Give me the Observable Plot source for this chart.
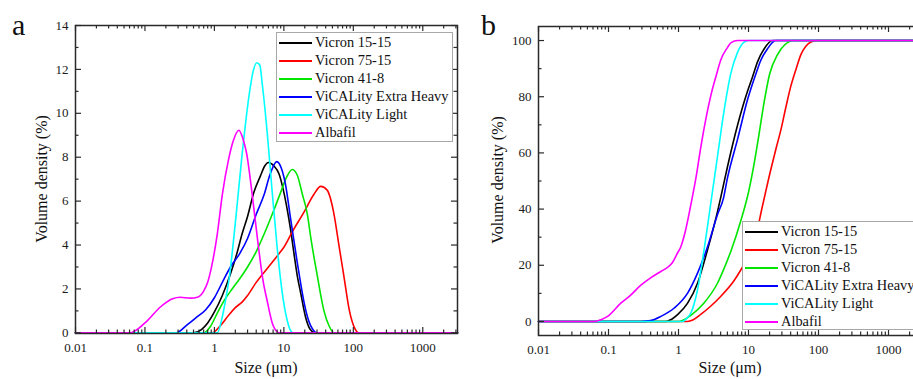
<!DOCTYPE html>
<html><head><meta charset="utf-8">
<script src="https://cdn.jsdelivr.net/npm/d3@7"></script>
<script src="https://cdn.jsdelivr.net/npm/@observablehq/plot@0.6"></script>
<style>
html,body{margin:0;padding:0;background:#fff;overflow:hidden;width:913px;height:379px;}
#wrap{position:relative;width:913px;height:379px;overflow:hidden;font-family:"Liberation Serif","Times New Roman",serif;color:#111;}
.panel{position:absolute;top:0;height:379px;}
.panel svg{background:transparent;}
.plabel{position:absolute;font-size:30px;line-height:30px;}
.xtitle{position:absolute;width:200px;text-align:center;font-size:16px;line-height:16px;white-space:nowrap;}
.ytitle{position:absolute;width:200px;text-align:center;font-size:16px;line-height:16px;white-space:nowrap;transform:rotate(-90deg);transform-origin:50% 50%;}
.legend{position:absolute;background:#fff;border:1px solid #a8a8a8;box-sizing:border-box;overflow:visible;}
.sw{position:absolute;left:2px;width:33px;height:2px;}
.tx{position:absolute;left:38px;font-size:14.4px;line-height:18px;white-space:nowrap;}
</style></head><body><div id="wrap"></div>
<script>
// ---- categories / labels ----
const seriesNames = ["Vicron 15-15","Vicron 75-15","Vicron 41-8","ViCALity Extra Heavy","ViCALity Light","Albafil"];
const sizeTicks = [0.01, 0.1, 1, 10, 100, 1000];
const densityTicks = [0, 2, 4, 6, 8, 10, 12, 14];
const densityMinorTicks = [1, 3, 5, 7, 9, 11, 13];
const cumulativeTicks = [0, 20, 40, 60, 80, 100];
const cumulativeMinorTicks = [10, 30, 50, 70, 90];
const xTitle = "Size (μm)";
const yTitle = "Volume density (%)";

// ---- panel a: volume density [size µm, %] ----
const density1515 = [[0.01,0],[0.5,0],[0.65,0.15],[0.8,0.45],[1.0,0.95],[1.3,1.7],[1.71,2.7],[2.1,3.6],[2.5,4.5],[3.0,5.3],[3.7,6.4],[4.6,7.15],[5.3,7.6],[5.96,7.76],[7.2,7.6],[8.5,7.25],[10,6.4],[11.2,5.6],[12.5,4.7],[14,3.6],[15.6,2.6],[17.5,1.8],[20.6,0.7],[24,0.15],[28,0],[3162,0]];
const density7515 = [[0.01,0],[0.93,0],[1.2,0.3],[1.6,0.8],[2.0,1.15],[2.5,1.4],[3.0,1.7],[4.0,2.3],[6.0,3.0],[8.5,3.6],[10,3.9],[13.2,4.6],[19.5,5.5],[27,6.3],[33.9,6.67],[42,6.5],[52,5.5],[62,4.0],[73,2.6],[88,1.0],[105,0.2],[120,0],[3162,0]];
const density418 = [[0.01,0],[0.71,0],[0.88,0.3],[1.1,0.9],[1.4,1.5],[1.8,2.0],[2.3,2.45],[3.0,3.0],[4.0,3.7],[5.2,4.5],[6.8,5.4],[9.0,6.4],[11,7.1],[13.2,7.44],[15.5,7.2],[18.5,6.3],[21.8,5.4],[24.5,4.3],[30.3,2.6],[37.8,1.0],[45,0.3],[53,0],[3162,0]];
const densityExtraHeavy = [[0.01,0],[0.28,0],[0.4,0.35],[0.55,0.7],[0.75,1.05],[1.0,1.6],[1.3,2.3],[1.7,3.0],[2.3,3.6],[3.0,4.3],[4.0,5.4],[5.2,6.3],[6.3,7.2],[7.9,7.8],[9.2,7.5],[10.5,6.8],[12.5,5.2],[15.6,3.2],[19.5,1.4],[22,0.7],[27,0.1],[30,0],[3162,0]];
const densityLight = [[0.01,0],[1.1,0],[1.25,0.5],[1.45,1.5],[1.65,2.6],[2.0,5.0],[2.5,8.1],[3.15,10.8],[3.6,11.9],[4.1,12.3],[4.5,12.2],[4.9,11.3],[5.8,9.0],[6.8,6.4],[8.0,3.9],[9.5,1.8],[11.2,0.55],[12.5,0.1],[13.5,0],[3162,0]];
const densityAlbafil = [[0.01,0],[0.06,0],[0.1,0.45],[0.17,1.2],[0.25,1.55],[0.32,1.62],[0.45,1.58],[0.57,1.62],[0.7,1.9],[0.8,2.3],[0.95,3.3],[1.1,4.5],[1.3,6.3],[1.6,7.9],[1.85,8.7],[2.25,9.23],[2.6,8.8],[2.9,8.2],[3.5,6.3],[4.2,4.2],[5.0,2.4],[5.8,1.4],[6.8,0.45],[8,0.05],[8.6,0],[3162,0]];

// ---- panel b: cumulative volume [size µm, %] ----
const cum1515 = [[0.01,0],[0.66,0],[0.8,0.8],[0.97,2.4],[1.35,6.5],[1.87,13.6],[2.6,25.5],[3.6,39],[4.0,44],[5.0,55],[7.0,70],[9.7,82],[11.4,87],[13.5,92.5],[16.7,97],[22,100],[3162,100]];
const cum7515 = [[0.01,0],[1.35,0],[1.6,0.5],[2.08,2.5],[2.9,5.5],[4.0,8.9],[6.2,14.5],[7.8,18.4],[10.8,25],[12.6,30],[15.8,41],[20.8,54],[25,62],[28.9,68],[34,76],[40,83.5],[48,90],[56,95],[66,98],[78,99.5],[97,100],[3162,100]];
const cum418 = [[0.01,0],[1.02,0],[1.2,0.6],[1.5,2.2],[2.3,6.5],[3.6,13.6],[4.5,19],[5.6,25],[7.8,36],[10,46],[12,56],[14,66],[16.7,78],[20,88],[26,95],[33,98.5],[44.7,100],[3162,100]];
const cumExtraHeavy = [[0.01,0],[0.29,0],[0.4,0.3],[0.56,1.8],[0.86,4.7],[1.35,10.1],[1.87,17.2],[2.6,26.6],[3.6,38],[4.4,44],[5.0,51],[7.0,65],[9.7,79],[12.7,88],[15,93],[18.6,97],[24.5,100],[3162,100]];
const cumLight = [[0.01,0],[1.14,0],[1.3,1],[1.5,3],[1.87,11.3],[2.32,25.5],[2.89,42],[3.6,58.6],[4.49,75.2],[5.58,88.2],[6.97,95.8],[8.65,99.4],[10,100],[3162,100]];
const cumAlbafil = [[0.01,0],[0.063,0],[0.078,0.6],[0.097,1.8],[0.15,6.5],[0.2,9],[0.29,12.9],[0.4,15.5],[0.56,17.8],[0.7,19.3],[0.82,21],[0.95,24],[1.08,26.6],[1.25,32],[1.5,41.5],[1.8,52],[2.08,62],[2.5,73],[2.9,80.5],[3.5,88],[4.0,93],[5.0,97.5],[5.6,99.2],[7.0,100],[3162,100]];

// ---- styles ----
const seriesColors = ["#000000","#ff0000","#00e600","#0000ff","#00ffff","#ff00ff"];
const frameColor = "#2a2a2a";

const densitySeries = [density1515, density7515, density418, densityExtraHeavy, densityLight, densityAlbafil];
const cumSeries = [cum1515, cum7515, cum418, cumExtraHeavy, cumLight, cumAlbafil];

const xMinorTicks = sizeTicks.flatMap(d => d3.range(2, 10).map(k => +(d * k).toPrecision(3))).filter(v => v <= 3162);

function makePanel(cfg) {
  const {width, height, marginLeft, marginRight, marginTop, marginBottom, yDomain, yMajor, yMinor, series} = cfg;
  const innerH = height - marginTop - marginBottom;
  const innerW = width - marginLeft - marginRight;
  const major = 6, minor = 3.5;
  const rows = series.flatMap((pts, i) => pts.map(([x, y]) => ({x, y, s: seriesNames[i]})));
  const tickStyle = {stroke: frameColor, strokeWidth: 1.2};
  return Plot.plot({
    width, height, marginLeft, marginRight, marginTop, marginBottom,
    style: {fontFamily: "'Liberation Serif', 'Times New Roman', serif", fontSize: "13px", color: "#1a1a1a", background: "transparent"},
    x: {type: "log", domain: [0.01, 3162]},
    y: {domain: yDomain},
    color: {domain: seriesNames, range: seriesColors},
    marks: [
      Plot.line(rows, {x: "x", y: "y", z: "s", stroke: "s", curve: "monotone-x", strokeWidth: 1.6}),
      Plot.tickX(sizeTicks, {x: d => d, insetTop: innerH - major, ...tickStyle}),
      Plot.tickX(sizeTicks, {x: d => d, insetBottom: innerH - major, ...tickStyle}),
      Plot.tickX(xMinorTicks, {x: d => d, insetTop: innerH - minor, ...tickStyle}),
      Plot.tickX(xMinorTicks, {x: d => d, insetBottom: innerH - minor, ...tickStyle}),
      Plot.tickY(yMajor, {y: d => d, insetRight: innerW - major, ...tickStyle}),
      Plot.tickY(yMajor, {y: d => d, insetLeft: innerW - major, ...tickStyle}),
      Plot.tickY(yMinor, {y: d => d, insetRight: innerW - minor, ...tickStyle}),
      Plot.tickY(yMinor, {y: d => d, insetLeft: innerW - minor, ...tickStyle}),
      Plot.axisX(sizeTicks, {anchor: "bottom", tickSize: 0, tickPadding: 9, tickFormat: d => String(d), label: null}),
      Plot.axisY(yMajor, {anchor: "left", tickSize: 0, tickPadding: 7, label: null}),
      Plot.frame({stroke: frameColor, strokeWidth: 1.5})
    ]
  });
}

const wrap = document.getElementById("wrap");

function addPanel(left, cfg) {
  const div = document.createElement("div");
  div.className = "panel";
  div.style.left = left + "px";
  div.style.width = cfg.width + "px";
  div.appendChild(makePanel(cfg));
  wrap.appendChild(div);
}

function addText(cls, text, left, top) {
  const d = document.createElement("div");
  d.className = cls;
  d.textContent = text;
  d.style.left = left + "px";
  d.style.top = top + "px";
  wrap.appendChild(d);
}

function addLegend(left, top, width, height) {
  const box = document.createElement("div");
  box.className = "legend";
  box.style.left = left + "px";
  box.style.top = top + "px";
  box.style.width = width + "px";
  box.style.height = height + "px";
  seriesNames.forEach((name, i) => {
    const sw = document.createElement("div");
    sw.className = "sw";
    sw.style.top = (9 + 18 * i) + "px";
    sw.style.background = seriesColors[i];
    box.appendChild(sw);
    const tx = document.createElement("div");
    tx.className = "tx";
    tx.style.top = (0 + 18 * i) + "px";
    tx.textContent = name;
    box.appendChild(tx);
  });
  wrap.appendChild(box);
}

// panel a
addPanel(0, {width: 460, height: 379, marginLeft: 75, marginRight: 3, marginTop: 25, marginBottom: 46,
  yDomain: [-0.03, 14], yMajor: densityTicks, yMinor: densityMinorTicks, series: densitySeries});
// panel b
addPanel(460, {width: 470, height: 379, marginLeft: 78, marginRight: 7, marginTop: 26, marginBottom: 44,
  yDomain: [-5, 105], yMajor: cumulativeTicks, yMinor: cumulativeMinorTicks, series: cumSeries});

addLegend(276, 32, 177, 110);
addLegend(742, 221, 180, 109);

addText("plabel", "a", 12, 10);
addText("plabel", "b", 481, 10);
addText("xtitle", xTitle, 266 - 100, 360);
addText("xtitle", xTitle, 730 - 100, 360);
addText("ytitle", yTitle, 41.6 - 100, 179 - 8);
addText("ytitle", yTitle, 498 - 100, 180 - 8);
</script></body></html>
